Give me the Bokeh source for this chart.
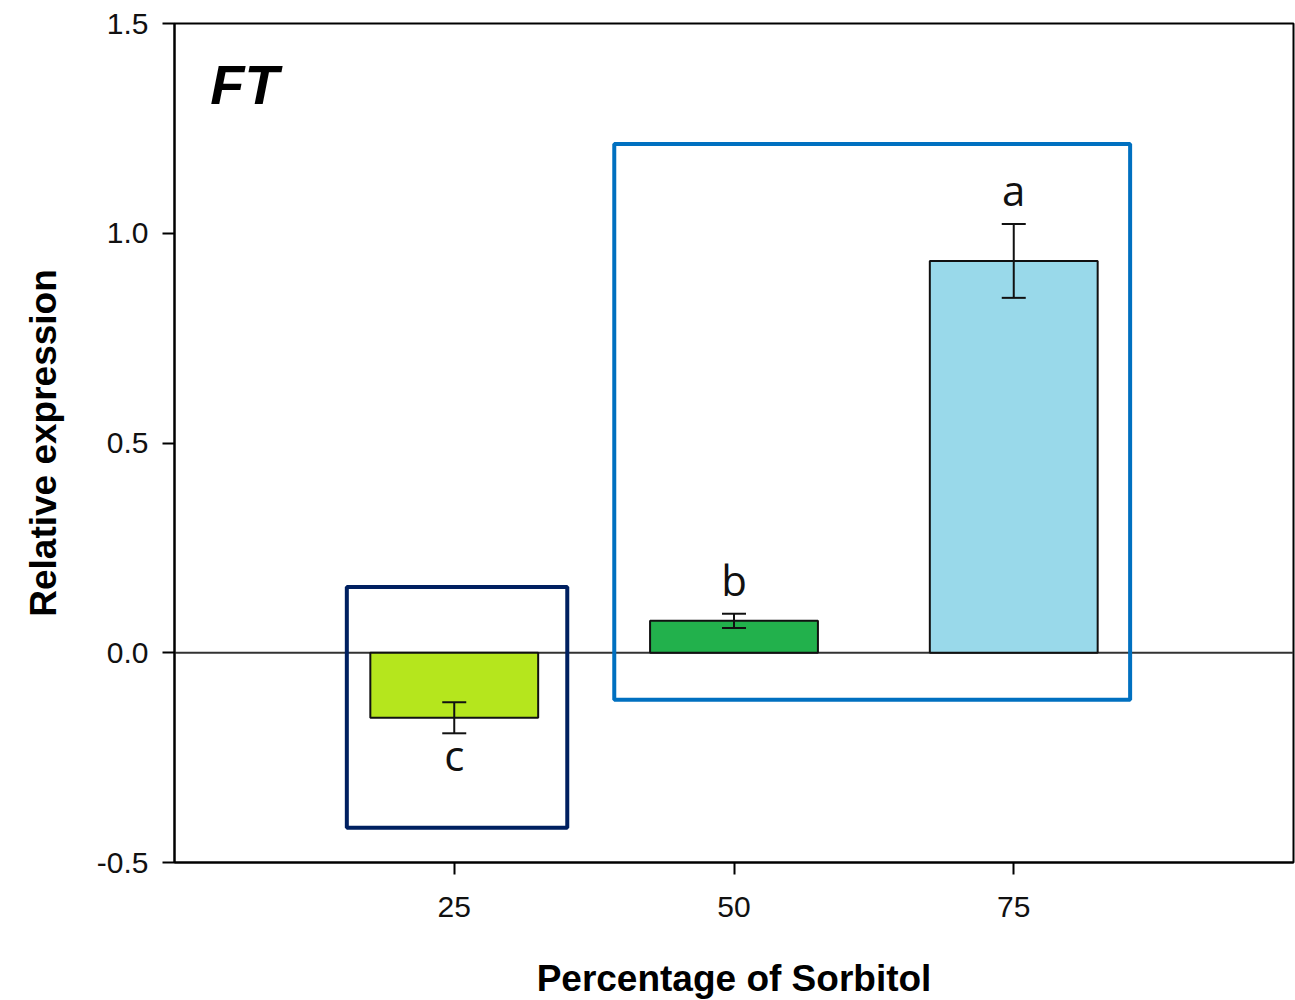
from bokeh.plotting import figure
from bokeh.models import (ColumnDataSource, FixedTicker, Whisker, TeeHead,
                          BoxAnnotation, Label, Span)
from bokeh.embed import file_html
from bokeh.resources import INLINE
from bokeh.core.properties import value

# ---- data ----
sorbitol = [25, 50, 75]
expression = [-0.155, 0.076, 0.934]
error = [0.037, 0.017, 0.088]
letters = ["c", "b", "a"]
colors = ["#B5E61D", "#22B14C", "#99D9EA"]
x_ticks = [25, 50, 75]
y_ticks = [-0.5, 0.0, 0.5, 1.0, 1.5]
gene = "FT"

lower = [v - e for v, e in zip(expression, error)]
upper = [v + e for v, e in zip(expression, error)]
letter_y = [(u + 0.082) if v >= 0 else (l - 0.05)
            for v, l, u in zip(expression, lower, upper)]

src = ColumnDataSource(dict(x=sorbitol, top=expression, lower=lower, upper=upper,
                            color=colors, letter=letters, ly=letter_y))

p = figure(frame_width=1119, frame_height=839, x_range=(0, 100), y_range=(-0.5, 1.5),
           output_backend="svg", toolbar_location=None,
           min_border_left=174, min_border_right=2, min_border_top=23, min_border_bottom=138)
p.xgrid.visible = False
p.ygrid.visible = False
p.outline_line_color = "black"
p.outline_line_width = 2
p.background_fill_color = "white"

# zero line
p.add_layout(Span(location=0, dimension="width", line_color="#333333", line_width=2,
                  level="underlay"))

p.vbar(x="x", top="top", bottom=0, width=15, source=src, fill_color="color",
       line_color="#111111", line_width=2)

w = Whisker(base="x", lower="lower", upper="upper", source=src, line_color="#111111",
            line_width=2, level="overlay",
            lower_head=TeeHead(size=24, line_color="#111111", line_width=2),
            upper_head=TeeHead(size=24, line_color="#111111", line_width=2))
p.add_layout(w)

p.text(x="x", y="ly", text="letter", source=src, text_align="center",
       text_baseline="alphabetic", text_font=value("Open Sans"),
       text_font_size="42px", text_color="#111111")

# highlight boxes
p.add_layout(BoxAnnotation(left=15.4, right=35.1, bottom=-0.417, top=0.157,
                           fill_alpha=0, line_color="#002060", line_alpha=1,
                           line_width=4, level="overlay"))
p.add_layout(BoxAnnotation(left=39.3, right=85.4, bottom=-0.112, top=1.213,
                           fill_alpha=0, line_color="#0070C0", line_alpha=1,
                           line_width=4, level="overlay"))

p.add_layout(Label(x=3.2, y=1.354, text=gene, text_font="Liberation Sans",
                   text_font_style="bold italic", text_font_size="56px",
                   text_color="black", text_baseline="alphabetic"))

for ax in (p.xaxis[0], p.yaxis[0]):
    ax.axis_line_color = "black"
    ax.axis_line_width = 2
    ax.major_tick_line_color = "black"
    ax.major_tick_line_width = 2
    ax.major_tick_out = 12
    ax.major_tick_in = 0
    ax.minor_tick_line_color = None
    ax.major_label_text_font = "Liberation Sans"
    ax.major_label_text_font_size = "30px"
    ax.major_label_text_color = "#111111"
    ax.axis_label_text_font = "Liberation Sans"
    ax.axis_label_text_font_style = "bold"
    ax.axis_label_text_font_size = "37px"
    ax.axis_label_text_color = "black"

p.xaxis.ticker = FixedTicker(ticks=x_ticks)
p.yaxis.ticker = FixedTicker(ticks=y_ticks)
p.yaxis.major_label_overrides = {t: f"{t:.1f}" for t in y_ticks}
p.xaxis.axis_label = "Percentage of Sorbitol"
p.yaxis.axis_label = "Relative expression"
p.xaxis.major_label_standoff = 22
p.xaxis.axis_label_standoff = 38
p.yaxis.major_label_standoff = 14
p.yaxis.axis_label_standoff = 30

open("out.html", "w").write(file_html(p, INLINE))
